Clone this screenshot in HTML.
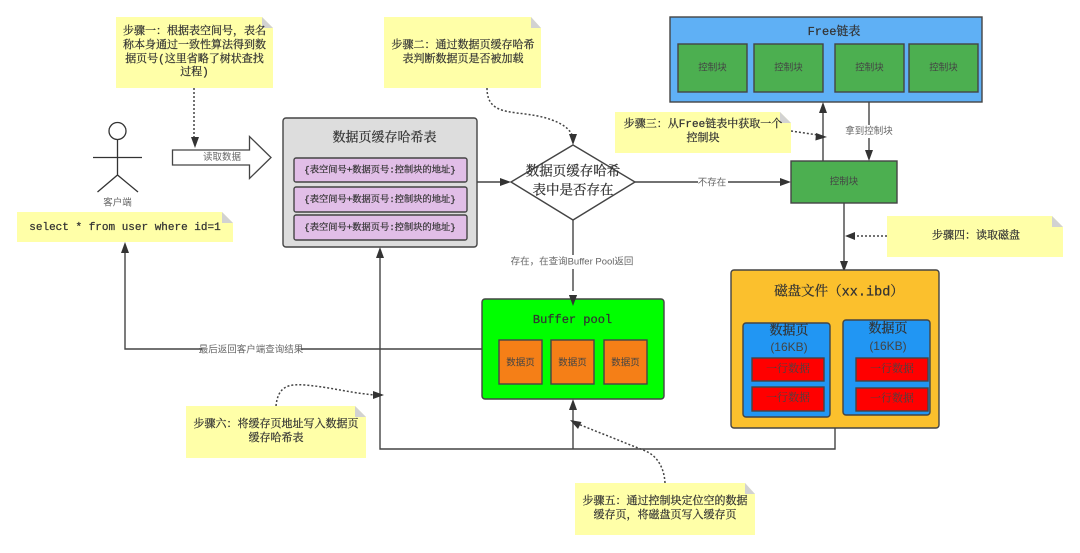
<!DOCTYPE html>
<html><head><meta charset="utf-8"><style>
html,body{margin:0;padding:0;background:#fff}
svg{display:block;filter:blur(.3px)}
text{font-family:"Liberation Sans","Noto Sans CJK SC",sans-serif;font-size:9.5px;fill:#666;text-anchor:middle;dominant-baseline:central}
.n,.t,.r{font-family:"Liberation Mono","Noto Serif CJK SC",serif;fill:#333;font-weight:400;stroke:#333;stroke-width:.25px}
.n{font-size:11px}
.t{font-size:13px}
.r{font-size:9.25px}
.g{fill:#444}
.l{stroke:#444;stroke-width:1.4;fill:none}
.d{stroke:#444;stroke-width:1.5;fill:none;stroke-dasharray:2 2}
.b{stroke:#444;stroke-width:1.4}
.a{fill:#333;stroke:none}
.note{fill:#ffffa8}.fold{fill:#d2d2d2}
</style></head><body>
<svg width="1080" height="553" viewBox="0 0 1080 553" xmlns="http://www.w3.org/2000/svg">
<rect width="1080" height="553" fill="#fff"/>

<!-- connectors -->
<path class="l" d="M482 349H125V250"/><path class="a" d="M125 242l-4 11h8z"/>
<path class="l" d="M835 428V449H380V255"/><path class="a" d="M380 247l-4 11h8z"/>
<path class="l" d="M573 449V407"/><path class="a" d="M573 399l-4 11h8z"/>
<path class="l" d="M477 182H503"/><path class="a" d="M511 182l-11-4v8z"/>
<path class="l" d="M635 182H783"/><path class="a" d="M791 182l-11-4v8z"/>
<path class="l" d="M573 220V291"/><path class="a" d="M573 306l-4-11h8z"/>
<path class="l" d="M823 161V110"/><path class="a" d="M823 102l-4 11h8z"/>
<path class="l" d="M869 102V153"/><path class="a" d="M869 161l-4-11h8z"/>
<path class="l" d="M844 203V262"/><path class="a" d="M844 272l-4-11h8z"/>

<!-- dotted -->
<path class="d" d="M194 88V140"/><path class="a" d="M195 148l-4-11h8z"/>
<path class="d" d="M487 88C487 120 520 108 552 120C566 125 572 132 573 138"/><path class="a" d="M573 145l-4-11h8z"/>
<path class="d" d="M791 131L818 135"/><path class="a" d="M827 137l-11-4-.6 7.500z"/>
<path class="d" d="M887 236H853"/><path class="a" d="M845 236l10-4v8z"/>
<path class="d" d="M665 483C664 465 655 454 643 450L578 424"/><path class="a" d="M570 420l8 9 3.500-7z"/>
<path class="d" d="M276 406C278 385 290 384 305 385C330 387 350 393 375 395"/><path class="a" d="M384 395l-11-4v8z"/>

<!-- actor -->
<circle cx="117.500" cy="131" r="8.500" fill="#fff" stroke="#333" stroke-width="1.300"/>
<path d="M117.500 140V175M93 157.500H142M97.500 192L117.500 175L138 192" stroke="#333" stroke-width="1.300" fill="none"/>
<text x="117.500" y="203">客户端</text>

<!-- block arrow -->
<path d="M172.500 150H249.500V136.500L271 157.500L249.500 178.500V165H172.500Z" fill="#fff" stroke="#444" stroke-width="1.300"/>
<text x="222" y="157.500">读取数据</text>

<!-- notes -->
<path class="note" d="M116 17H262L273 28V88H116Z"/><path class="fold" d="M262 17L273 28H262Z"/>
<text class="n" x="194.500" y="32">步骤一：根据表空间号，表名</text>
<text class="n" x="194.500" y="46">称本身通过一致性算法得到数</text>
<text class="n" x="194.500" y="60">据页号(这里省略了树状查找</text>
<text class="n" x="194.500" y="73">过程)</text>

<path class="note" d="M384 17H531L541 28V88H384Z"/><path class="fold" d="M531 17L541 28H531Z"/>
<text class="n" x="463" y="46">步骤二：通过数据页缓存哈希</text>
<text class="n" x="463" y="60">表判断数据页是否被加载</text>

<path class="note" d="M17 212H222L233 223V242H17Z"/><path class="fold" d="M222 212L233 223H222Z"/>
<text class="n" x="125" y="228" style="font-family:'Liberation Mono',monospace">select * from user where id=1</text>

<path class="note" d="M615 112H780L791 123V153H615Z"/><path class="fold" d="M780 112L791 123H780Z"/>
<text class="n" x="703" y="125">步骤三：从Free链表中获取一个</text>
<text class="n" x="703" y="139">控制块</text>

<path class="note" d="M887 216H1052L1063 227V257H887Z"/><path class="fold" d="M1052 216L1063 227H1052Z"/>
<text class="n" x="976" y="236.500">步骤四：读取磁盘</text>

<path class="note" d="M575 483H745L755 494V535H575Z"/><path class="fold" d="M745 483L755 494H745Z"/>
<text class="n" x="665" y="502">步骤五：通过控制块定位空的数据</text>
<text class="n" x="665" y="516">缓存页，将磁盘页写入缓存页</text>

<path class="note" d="M186 406H355L366 417V458H186Z"/><path class="fold" d="M355 406L366 417H355Z"/>
<text class="n" x="276" y="425">步骤六：将缓存页地址写入数据页</text>
<text class="n" x="276" y="439">缓存哈希表</text>

<!-- hash box -->
<rect class="b" x="283" y="118" width="194" height="129" rx="3" fill="#dddddd"/>
<text class="t" x="384.500" y="138">数据页缓存哈希表</text>
<rect class="b" x="294" y="158" width="173" height="24" rx="2" fill="#e1bee7"/>
<rect class="b" x="294" y="187" width="173" height="25" rx="2" fill="#e1bee7"/>
<rect class="b" x="294" y="215" width="173" height="25" rx="2" fill="#e1bee7"/>
<text class="r" x="380" y="170">{表空间号+数据页号:控制块的地址}</text>
<text class="r" x="380" y="199.500">{表空间号+数据页号:控制块的地址}</text>
<text class="r" x="380" y="227.500">{表空间号+数据页号:控制块的地址}</text>

<!-- diamond -->
<path d="M573 145L635 182L573 220L511 182Z" fill="#fff" stroke="#444" stroke-width="1.400"/>
<text class="t" x="573" y="173" style="font-size:13.500px">数据页缓存哈希</text>
<text class="t" x="573" y="192" style="font-size:13.500px">表中是否存在</text>

<!-- free list -->
<rect class="b" x="670" y="17" width="312" height="85" fill="#5fb0f5"/>
<text class="t" x="834" y="32" style="font-size:12px">Free链表</text>
<rect class="b" x="678" y="44" width="69" height="48" fill="#4caf50"/>
<rect class="b" x="754" y="44" width="69" height="48" fill="#4caf50"/>
<rect class="b" x="835" y="44" width="69" height="48" fill="#4caf50"/>
<rect class="b" x="909" y="44" width="69" height="48" fill="#4caf50"/>
<text class="g" x="712.500" y="68">控制块</text><text class="g" x="788.500" y="68">控制块</text><text class="g" x="869.500" y="68">控制块</text><text class="g" x="943.500" y="68">控制块</text>

<!-- control block -->
<rect class="b" x="791" y="161" width="106" height="42" fill="#4caf50"/>
<text class="g" x="844" y="182">控制块</text>

<!-- disk -->
<rect class="b" x="731" y="270" width="208" height="158" rx="3" fill="#fbc02d"/>
<text class="t" x="839" y="293" style="font-size:13.500px">磁盘文件（xx.ibd）</text>
<rect class="b" x="743" y="323" width="87" height="94" rx="3" fill="#2196f3"/>
<rect class="b" x="843" y="320" width="87" height="95" rx="3" fill="#2196f3"/>
<text class="t" x="789" y="331">数据页</text><text class="g" x="789" y="347" style="font-size:12px">(16KB)</text>
<text class="t" x="888" y="329">数据页</text><text class="g" x="888" y="346" style="font-size:12px">(16KB)</text>
<rect class="b" x="752" y="358" width="72" height="23" fill="#f00"/>
<rect class="b" x="752" y="387" width="72" height="24" fill="#f00"/>
<rect class="b" x="856" y="358" width="72" height="23" fill="#f00"/>
<rect class="b" x="856" y="388" width="72" height="23" fill="#f00"/>
<text class="n" x="788" y="370" style="stroke-width:0;fill:#444">一行数据</text>
<text class="n" x="788" y="399" style="stroke-width:0;fill:#444">一行数据</text>
<text class="n" x="892" y="370" style="stroke-width:0;fill:#444">一行数据</text>
<text class="n" x="892" y="399.500" style="stroke-width:0;fill:#444">一行数据</text>

<!-- buffer pool -->
<rect class="b" x="482" y="299" width="182" height="100" rx="3" fill="#00ff00"/>
<path class="a" d="M573 306l-4-11h8z"/>
<text class="n" x="572.500" y="320" style="font-family:'Liberation Mono',monospace;font-size:12px">Buffer pool</text>
<rect class="b" x="499" y="340" width="43" height="44" fill="#f57f17"/>
<rect class="b" x="551" y="340" width="43" height="44" fill="#f57f17"/>
<rect class="b" x="604" y="340" width="43" height="44" fill="#f57f17"/>
<text class="g" x="520.500" y="363">数据页</text><text class="g" x="572.500" y="363">数据页</text><text class="g" x="625.500" y="363">数据页</text>

<!-- edge labels -->
<rect x="698" y="176" width="30" height="12" fill="#fff"/><text x="712" y="183">不存在</text>
<rect x="510" y="255" width="124" height="14" fill="#fff"/><text x="572" y="262">存在，在查询Buffer Pool返回</text>
<rect x="845" y="125" width="48" height="13" fill="#fff"/><text x="869" y="131.500">拿到控制块</text>
<rect x="202" y="343" width="99" height="13" fill="#fff"/><text x="251" y="350">最后返回客户端查询结果</text>
</svg>
</body></html>
